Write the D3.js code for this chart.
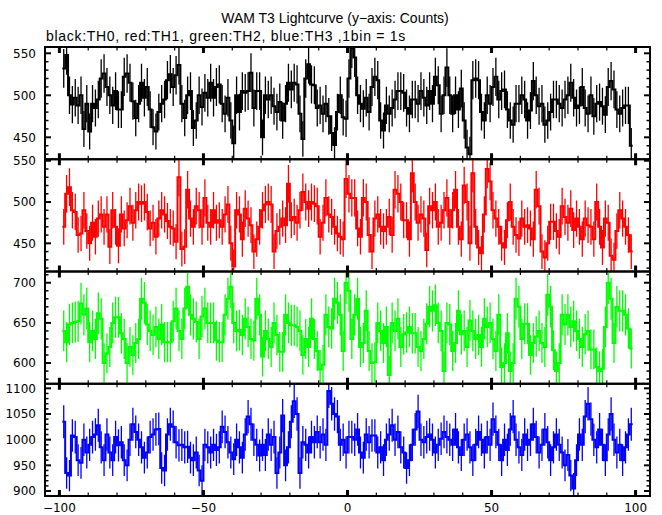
<!DOCTYPE html>
<html><head><meta charset="utf-8">
<script src="https://cdn.jsdelivr.net/npm/d3@7"></script>
<style>body{margin:0;background:#fff}svg{display:block}</style>
</head><body>
<svg id="c" width="662" height="515"></svg>
<script>
const titleText = "WAM T3 Lightcurve (y\u2212axis: Counts)";
const subtitleText = "black:TH0, red:TH1, green:TH2, blue:TH3 ,1bin = 1s";
const xTickLabels = [-100, -50, 0, 50, 100];
const timeBins = d3.range(-98.5, 99, 1); // 198 one-second bins
const th0 = [
532,548,500,489,497,488,500,460,490,457,
490,485,495,520,526,510,500,488,505,483,
483,522,526,515,493,473,490,515,497,510,
483,462,457,480,490,495,518,525,510,524,
536,490,473,500,505,461,470,500,486,503,
497,515,497,510,513,490,478,497,470,443,
500,480,505,503,505,527,485,505,505,450,
500,495,500,487,480,492,470,490,515,507,
515,513,478,448,520,537,513,512,485,488,
478,490,475,455,441,480,500,474,472,520,
556,545,500,490,484,497,480,510,522,518,
470,458,488,478,485,495,505,505,503,485,
478,495,495,490,505,497,488,505,490,522,
512,478,500,533,500,478,500,483,508,470,
438,430,518,520,518,480,470,500,490,510,
522,495,505,507,483,470,465,490,490,500,
495,470,482,517,500,487,490,465,470,480,
495,495,490,485,495,500,515,497,485,488,
510,485,478,500,475,490,492,487,477,510,
517,507,483,478,485,488,488,440];
const th1 = [
470,510,518,490,488,460,462,490,465,450,
475,458,480,485,470,485,446,490,470,447,
485,468,478,495,475,490,500,498,500,488,
468,475,458,480,490,485,477,470,468,452,
530,443,446,515,480,470,495,490,470,505,
475,470,490,475,478,470,485,497,450,422,
490,485,455,492,480,472,440,455,470,490,
497,500,497,440,465,470,480,472,522,478,
482,475,490,512,500,492,500,498,495,458,
475,505,485,482,470,462,458,455,528,510,
505,505,468,458,505,500,460,440,480,485,
470,465,470,482,460,515,510,500,478,478,
455,535,500,475,485,480,442,495,490,500,
470,475,490,505,470,490,515,470,455,520,
500,450,535,470,445,438,485,540,525,490,
480,470,450,445,478,500,470,460,456,480,
470,472,468,455,515,495,440,433,450,476,
476,465,458,495,482,475,492,466,480,470,
455,480,472,470,455,500,470,445,480,475,
435,430,465,490,480,470,460,440];
const th2 = [
640,626,648,650,651,652,674,660,668,626,
640,630,662,655,600,612,620,650,657,657,
637,630,600,620,610,625,630,680,675,648,
640,635,645,630,648,626,626,626,652,668,
640,630,668,695,660,655,651,630,658,668,
650,650,650,628,626,626,660,680,695,650,
640,641,635,655,645,630,628,680,660,608,
640,630,620,650,635,614,614,660,650,647,
647,645,640,610,630,620,655,630,615,592,
598,660,645,643,680,675,660,615,700,690,
630,660,680,620,625,665,615,600,601,650,
640,625,645,585,650,640,655,620,636,638,
645,637,637,620,615,630,649,670,665,672,
650,640,590,650,648,615,625,665,636,640,
620,653,640,630,635,620,655,645,650,630,
615,660,595,600,637,590,600,680,670,630,
649,649,610,625,633,640,625,620,685,670,
616,590,600,660,648,660,645,652,640,630,
620,636,640,617,617,595,590,593,645,700,
680,625,670,665,665,660,643,618];
const th3 = [
1035,935,930,1008,1005,960,955,1000,975,990,
1005,1010,1028,985,960,1010,975,960,1005,989,
995,960,950,1000,1030,1015,1000,985,965,975,
1005,1010,1020,1021,945,940,1010,1030,1025,995,
989,990,985,986,965,960,975,940,920,990,
985,975,990,980,985,1025,1015,995,975,962,
1000,985,965,1010,1045,1030,1000,990,969,990,
970,1010,990,1005,935,975,1047,950,985,1035,
1075,1050,935,995,990,975,1005,995,1015,995,
1010,990,1095,1070,1050,1045,990,1000,975,1005,
1005,1000,1020,975,965,1010,995,1008,1008,975,
985,960,1000,1010,1028,1000,1015,985,975,945,
960,990,1020,1055,1000,995,1005,1010,1000,975,
990,1002,1015,1005,1000,990,1020,985,970,1000,
1010,985,960,990,1015,1000,975,1005,990,1040,
1015,990,960,1000,980,1020,1045,1000,985,970,
1010,990,1000,1030,1005,975,990,1020,995,960,
985,1010,990,975,950,970,930,905,960,1010,
990,1045,1070,1040,1000,985,1020,990,960,1010,
1050,1000,975,990,960,985,1010,1030];
const seriesValues = [th0, th1, th2, th3];
const seriesColors = ["#000000", "#ff0000", "#00ff00", "#0000ff"];
const yDomains = [[423.9, 557.5], [415.9, 551.8], [574.2, 714], [890.3, 1108.9]];
const yTickLabels = [[450, 500, 550], [450, 500, 550], [600, 650, 700], [900, 950, 1000, 1050, 1100]];

const svg = d3.select("#c");
const left = 45, right = 650, top0 = 47, bottom0 = 496;
const ph = (bottom0 - top0) / 4;
const x = d3.scaleLinear().domain([-105, 105]).range([left, right]);
const fmt = v => (v < 0 ? "\u2212" + Math.abs(v) : String(v));

svg.append("text").attr("x", 335).attr("y", 23).attr("text-anchor", "middle")
  .style("font-family", "Liberation Sans, Arial, sans-serif").style("font-size", "14px").text(titleText);
svg.append("text").attr("x", 46).attr("y", 41)
  .style("font-family", "Liberation Sans, Arial, sans-serif").style("font-size", "14px")
  .style("letter-spacing", "0.7px").text(subtitleText);

const defs = svg.append("defs");
seriesValues.forEach((vals, k) => {
  const pt = top0 + k * ph, pb = pt + ph;
  const y = d3.scaleLinear().domain(yDomains[k]).range([pb, pt]);
  defs.append("clipPath").attr("id", "clip" + k).append("rect")
    .attr("x", left).attr("y", pt).attr("width", right - left).attr("height", ph);
  const g = svg.append("g").attr("clip-path", `url(#clip${k})`);
  const pts = timeBins.flatMap((t, i) => [[t - 0.5, vals[i]], [t + 0.5, vals[i]]]);
  g.append("path").attr("d", d3.line().x(d => x(d[0])).y(d => y(d[1]))(pts))
    .attr("fill", "none").attr("stroke", seriesColors[k]).attr("stroke-width", 2);
  g.selectAll("line.err").data(timeBins).enter().append("line")
    .attr("x1", t => x(t)).attr("x2", t => x(t))
    .attr("y1", (t, i) => y(vals[i] - Math.sqrt(vals[i])))
    .attr("y2", (t, i) => y(vals[i] + Math.sqrt(vals[i])))
    .attr("stroke", seriesColors[k]).attr("stroke-width", 1.3);

  // frame
  svg.append("rect").attr("x", left).attr("y", pt).attr("width", right - left).attr("height", ph)
    .attr("fill", "none").attr("stroke", "#000").attr("stroke-width", 2);
  // x ticks
  d3.range(-100, 101, 10).forEach(t => {
    const major = t % 50 === 0;
    const len = major ? 6 : 3.5, sw = major ? 3 : 1.2;
    [[pt, 1], [pb, -1]].forEach(([yy, dir]) => {
      svg.append("line").attr("x1", x(t)).attr("x2", x(t)).attr("y1", yy).attr("y2", yy + dir * len)
        .attr("stroke", "#000").attr("stroke-width", sw);
    });
  });
  // y ticks
  const [d0, d1] = yDomains[k];
  d3.range(Math.ceil(d0 / 10) * 10, d1, 10).forEach(v => {
    const major = v % 50 === 0;
    const len = major ? 6 : 3.5, sw = major ? 2 : 1.5;
    [[left, 1], [right, -1]].forEach(([xx, dir]) => {
      svg.append("line").attr("x1", xx).attr("x2", xx + dir * len).attr("y1", y(v)).attr("y2", y(v))
        .attr("stroke", "#000").attr("stroke-width", sw);
    });
  });
  yTickLabels[k].forEach(v => {
    svg.append("text").attr("x", 36).attr("y", y(v)).attr("dy", "0.36em").attr("text-anchor", "end")
      .style("font-family", "DejaVu Sans, sans-serif").style("font-size", "12px").text(fmt(v));
  });
});
xTickLabels.forEach(t => {
  svg.append("text").attr("x", x(t)).attr("y", 512).attr("text-anchor", "middle")
    .style("font-family", "DejaVu Sans, sans-serif").style("font-size", "12px").text(fmt(t));
});
</script>
</body></html>
